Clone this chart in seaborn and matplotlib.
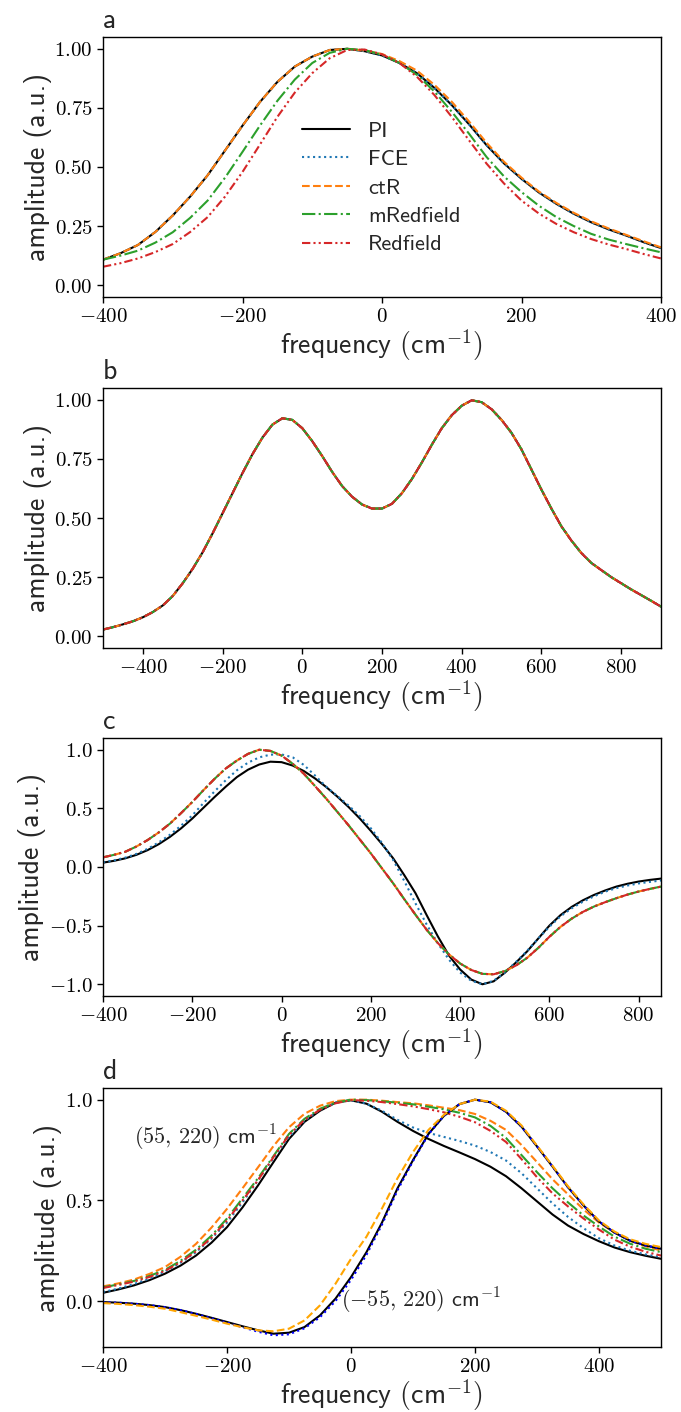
import matplotlib
matplotlib.use("Agg")
import matplotlib.pyplot as plt
from matplotlib.ticker import FuncFormatter, MultipleLocator
import seaborn as sns

# ---------------- data ----------------
# panel a
freq_a = [-400, -375, -350, -325, -300, -275, -250, -225, -200, -175, -150, -125, -100, -75, -50, -25,
          0, 25, 50, 75, 100, 125, 150, 175, 200, 225, 250, 275, 300, 325, 350, 375, 400]
pi_a = [0.108, 0.135, 0.17, 0.225, 0.295, 0.375, 0.465, 0.57, 0.675, 0.775, 0.86, 0.925, 0.967, 0.995, 1.0, 0.99,
        0.972, 0.94, 0.897, 0.835, 0.762, 0.68, 0.592, 0.515, 0.45, 0.392, 0.344, 0.302, 0.266, 0.236, 0.21, 0.182, 0.157]
fce_a = pi_a
ctr_a = [0.108, 0.135, 0.17, 0.225, 0.295, 0.375, 0.465, 0.57, 0.675, 0.775, 0.86, 0.925, 0.967, 0.995, 1.0, 0.993,
         0.978, 0.948, 0.908, 0.848, 0.776, 0.692, 0.602, 0.522, 0.455, 0.396, 0.348, 0.306, 0.27, 0.24, 0.213, 0.186, 0.16]
mred_a = [0.108, 0.125, 0.146, 0.18, 0.224, 0.285, 0.358, 0.455, 0.564, 0.675, 0.78, 0.87, 0.94, 0.983, 1.0, 0.995,
          0.975, 0.94, 0.89, 0.82, 0.734, 0.64, 0.542, 0.46, 0.394, 0.336, 0.288, 0.25, 0.217, 0.193, 0.174, 0.156, 0.139]
red_a = [0.078, 0.093, 0.113, 0.14, 0.174, 0.225, 0.288, 0.375, 0.479, 0.595, 0.712, 0.815, 0.897, 0.96, 0.995, 0.997,
         0.977, 0.94, 0.882, 0.805, 0.712, 0.612, 0.514, 0.43, 0.358, 0.303, 0.259, 0.224, 0.195, 0.172, 0.153, 0.132, 0.113]

# panel b (all five methods coincide)
freq_b = [-500, -475, -450, -425, -400, -375, -350, -325, -300, -275, -250, -225, -200, -175, -150, -125, -100,
          -75, -50, -25, 0, 25, 50, 75, 100, 125, 150, 175, 200, 225, 250, 275, 300, 325, 350, 375, 400,
          425, 450, 475, 500, 525, 550, 575, 600, 625, 650, 675, 700, 725, 750, 775, 800, 825, 850, 875, 900]
amp_b = [0.028, 0.038, 0.05, 0.063, 0.08, 0.102, 0.13, 0.17, 0.224, 0.285, 0.355, 0.435, 0.52, 0.605, 0.69, 0.77, 0.84,
         0.895, 0.922, 0.915, 0.88, 0.825, 0.762, 0.695, 0.635, 0.59, 0.557, 0.54, 0.54, 0.56, 0.605, 0.665, 0.735, 0.81,
         0.88, 0.935, 0.975, 0.998, 0.99, 0.96, 0.915, 0.86, 0.79, 0.705, 0.62, 0.54, 0.465, 0.405, 0.352, 0.31, 0.28,
         0.25, 0.224, 0.198, 0.174, 0.15, 0.125]

# panel c
freq_c = [-400, -375, -350, -325, -300, -275, -250, -225, -200, -175, -150, -125, -100, -75, -50, -25,
          0, 25, 50, 75, 100, 125, 150, 175, 200, 225, 250, 275, 300, 325, 350, 375, 400, 425, 450, 475,
          500, 525, 550, 575, 600, 625, 650, 675, 700, 725, 750, 775, 800, 825, 850]
pi_c = [0.037, 0.053, 0.074, 0.104, 0.144, 0.195, 0.257, 0.33, 0.413, 0.505, 0.597, 0.685, 0.767, 0.83, 0.874, 0.898,
        0.894, 0.865, 0.818, 0.755, 0.682, 0.6, 0.512, 0.415, 0.308, 0.195, 0.074, -0.07, -0.223, -0.41, -0.591, -0.755,
        -0.874, -0.96, -1.0, -0.975, -0.902, -0.815, -0.72, -0.61, -0.5, -0.41, -0.34, -0.284, -0.238, -0.2, -0.167,
        -0.143, -0.124, -0.11, -0.099]
fce_c = [0.04, 0.057, 0.08, 0.112, 0.155, 0.21, 0.275, 0.353, 0.44, 0.545, 0.645, 0.74, 0.825, 0.89, 0.935, 0.958,
         0.96, 0.935, 0.87, 0.78, 0.685, 0.605, 0.525, 0.435, 0.33, 0.205, 0.06, -0.12, -0.31, -0.49, -0.65, -0.79,
         -0.9, -0.97, -1.0, -0.97, -0.9, -0.81, -0.715, -0.61, -0.51, -0.42, -0.352, -0.296, -0.25, -0.21, -0.18,
         -0.158, -0.14, -0.127, -0.115]
red_c = [0.082, 0.104, 0.13, 0.175, 0.23, 0.295, 0.37, 0.46, 0.554, 0.655, 0.752, 0.84, 0.908, 0.965, 1.0, 0.99,
         0.95, 0.88, 0.795, 0.69, 0.583, 0.47, 0.356, 0.236, 0.116, -0.012, -0.139, -0.275, -0.407, -0.535, -0.648,
         -0.745, -0.823, -0.878, -0.911, -0.915, -0.888, -0.84, -0.775, -0.69, -0.595, -0.51, -0.44, -0.383, -0.337,
         -0.3, -0.266, -0.235, -0.209, -0.187, -0.167]

# panel d
freq_d = [-400, -375, -350, -325, -300, -275, -250, -225, -200, -175, -150, -125, -100, -75, -50, -25,
          0, 25, 50, 75, 100, 125, 150, 175, 200, 225, 250, 275, 300, 325, 350, 375, 400, 425, 450, 475, 500]
# (55, 220) cm^-1
pi_d1 = [0.041, 0.058, 0.078, 0.104, 0.136, 0.176, 0.226, 0.29, 0.367, 0.465, 0.574, 0.69, 0.805, 0.89, 0.945, 0.985,
         0.997, 0.98, 0.94, 0.89, 0.845, 0.805, 0.77, 0.738, 0.705, 0.667, 0.62, 0.56, 0.495, 0.43, 0.375, 0.333,
         0.297, 0.266, 0.243, 0.225, 0.21]
fce_d1 = [0.045, 0.062, 0.085, 0.112, 0.147, 0.19, 0.243, 0.31, 0.39, 0.49, 0.6, 0.71, 0.815, 0.895, 0.95, 0.985,
          0.998, 0.98, 0.945, 0.9, 0.862, 0.835, 0.815, 0.795, 0.772, 0.74, 0.698, 0.635, 0.56, 0.485, 0.418, 0.362,
          0.312, 0.276, 0.25, 0.232, 0.218]
ctr_d1 = [0.073, 0.088, 0.107, 0.135, 0.169, 0.22, 0.284, 0.365, 0.458, 0.56, 0.664, 0.77, 0.863, 0.93, 0.97, 0.993,
          1.0, 1.0, 0.995, 0.988, 0.982, 0.972, 0.96, 0.948, 0.929, 0.895, 0.85, 0.775, 0.69, 0.605, 0.53, 0.455,
          0.39, 0.34, 0.3, 0.272, 0.251]
mred_d1 = [0.068, 0.083, 0.1, 0.125, 0.155, 0.2, 0.255, 0.325, 0.41, 0.51, 0.61, 0.72, 0.83, 0.905, 0.955, 0.985,
           1.0, 0.998, 0.992, 0.985, 0.977, 0.965, 0.952, 0.935, 0.912, 0.87, 0.81, 0.725, 0.64, 0.56, 0.49, 0.425,
           0.37, 0.32, 0.285, 0.26, 0.243]
red_d1 = [0.065, 0.08, 0.097, 0.12, 0.15, 0.193, 0.247, 0.315, 0.4, 0.5, 0.6, 0.715, 0.825, 0.9, 0.95, 0.982,
          0.998, 0.995, 0.988, 0.978, 0.967, 0.953, 0.937, 0.915, 0.888, 0.845, 0.79, 0.705, 0.615, 0.535, 0.47, 0.41,
          0.355, 0.305, 0.27, 0.245, 0.226]
# (-55, 220) cm^-1
pi_d2 = [-0.005, -0.008, -0.013, -0.02, -0.03, -0.045, -0.063, -0.083, -0.104, -0.125, -0.145, -0.162, -0.157, -0.129,
         -0.071, 0.012, 0.119, 0.243, 0.39, 0.56, 0.7, 0.83, 0.92, 0.978, 1.0, 0.987, 0.94, 0.866, 0.768, 0.668, 0.565,
         0.475, 0.395, 0.34, 0.3, 0.276, 0.26]
fce_d2 = [-0.005, -0.008, -0.013, -0.02, -0.03, -0.045, -0.064, -0.085, -0.107, -0.13, -0.152, -0.17, -0.165, -0.135,
          -0.08, 0.0, 0.105, 0.23, 0.38, 0.55, 0.695, 0.828, 0.92, 0.978, 1.0, 0.987, 0.94, 0.866, 0.768, 0.668, 0.565,
          0.475, 0.395, 0.34, 0.3, 0.276, 0.26]
ctr_d2 = [-0.01, -0.014, -0.02, -0.028, -0.038, -0.055, -0.073, -0.092, -0.112, -0.13, -0.145, -0.15, -0.137, -0.096,
          -0.021, 0.086, 0.21, 0.32, 0.46, 0.61, 0.74, 0.85, 0.925, 0.978, 1.0, 0.99, 0.945, 0.872, 0.772, 0.672, 0.57,
          0.48, 0.4, 0.345, 0.307, 0.284, 0.268]

methods = ["PI", "FCE", "ctR", "mRedfield", "Redfield"]
colors = ["black", "#1f77b4", "#ff7f0e", "#2ca02c", "#d62728"]
styles = ["-", ":", "--", "-.", (0, (4, 1.5, 1, 1.5, 1, 1.5))]

# ---------------- style ----------------
sns.set_style("ticks")
plt.rcParams["mathtext.fontset"] = "cm"
plt.rcParams["font.family"] = ["cmss10", "DejaVu Sans"]
plt.rcParams["axes.edgecolor"] = "black"
plt.rcParams["xtick.color"] = "black"
plt.rcParams["ytick.color"] = "black"

fig = plt.figure(figsize=(6.81, 14.12), dpi=100)
W = 681.0
H = 1412.0
boxes = [(37, 297), (388, 648), (738, 996), (1088, 1347)]
axes = []
for top, bot in boxes:
    axes.append(fig.add_axes([103 / W, 1 - bot / H, 558 / W, (bot - top) / H]))

xlab = r"frequency $(\mathsf{cm}^{-1})$"
ylab = "amplitude (a.u.)"


def draw(ax, x, series, names, cols, sty, labels=False):
    for y, n, c, s in zip(series, names, cols, sty):
        sns.lineplot(x=x, y=y, ax=ax, color=c, linestyle=s, lw=1.5,
                     label=n if labels else None)


# a
ax = axes[0]
draw(ax, freq_a, [pi_a, fce_a, ctr_a, mred_a, red_a], methods, colors, styles, labels=True)
ax.set_xlim(-400, 400)
ax.set_ylim(-0.05, 1.05)
ax.yaxis.set_major_locator(MultipleLocator(0.25))
ax.xaxis.set_major_locator(MultipleLocator(200))
ax.yaxis.set_major_formatter(FuncFormatter(lambda v, p: "$%.2f$" % v))
ax.legend(loc="center left", bbox_to_anchor=(0.32, 0.42), frameon=False, fontsize=16,
          handlelength=2.2, labelspacing=0.4)

# b
ax = axes[1]
draw(ax, freq_b, [amp_b] * 5, methods, colors, styles)
ax.set_xlim(-500, 900)
ax.set_ylim(-0.05, 1.05)
ax.yaxis.set_major_locator(MultipleLocator(0.25))
ax.xaxis.set_major_locator(MultipleLocator(200))
ax.yaxis.set_major_formatter(FuncFormatter(lambda v, p: "$%.2f$" % v))

# c
ax = axes[2]
draw(ax, freq_c, [pi_c, fce_c, red_c, red_c, red_c], methods, colors, styles)
ax.set_xlim(-400, 850)
ax.set_ylim(-1.1, 1.1)
ax.yaxis.set_major_locator(MultipleLocator(0.5))
ax.xaxis.set_major_locator(MultipleLocator(200))
ax.yaxis.set_major_formatter(FuncFormatter(lambda v, p: "$%.1f$" % v))

# d
ax = axes[3]
draw(ax, freq_d, [pi_d1, fce_d1, ctr_d1, mred_d1, red_d1], methods, colors, styles)
draw(ax, freq_d, [pi_d2, fce_d2, ctr_d2], methods[:3], ["black", "blue", "orange"], styles[:3])
ax.set_xlim(-400, 500)
ax.set_ylim(-0.228, 1.058)
ax.yaxis.set_major_locator(MultipleLocator(0.5))
ax.xaxis.set_major_locator(MultipleLocator(200))
ax.yaxis.set_major_formatter(FuncFormatter(lambda v, p: "$%.1f$" % v))
ax.text(-350, 0.81, r"$(55,\,220)$ cm$^{-1}$", fontsize=16, va="center", ha="left")
ax.text(-16, 0.0, r"$(-55,\,220)$ cm$^{-1}$", fontsize=16, va="center", ha="left")

for ax, letter in zip(axes, "abcd"):
    for sp in ax.spines.values():
        sp.set_visible(True)
        sp.set_linewidth(1.0)
    ax.xaxis.set_major_formatter(FuncFormatter(lambda v, p: "$%d$" % round(v)))
    ax.tick_params(labelsize=15, direction="out", length=4, width=1)
    ax.set_xlabel(xlab, fontsize=20, labelpad=1)
    ax.set_ylabel(ylab, fontsize=20, labelpad=2)
    ax.text(0.0, 1.015, letter, transform=ax.transAxes, fontsize=20,
            ha="left", va="bottom")

fig.savefig("out.png", dpi=100)
